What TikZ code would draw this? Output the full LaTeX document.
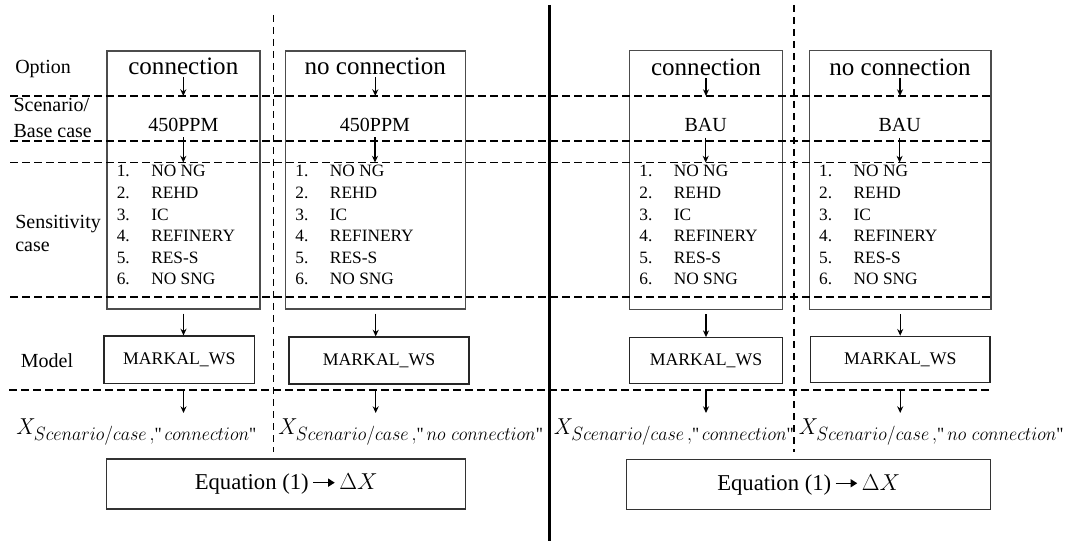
\documentclass[tikz,border=0pt]{standalone}
\usepackage{amsmath}
\usepackage{fontspec}
\setmainfont{Liberation Serif}
\newfontfamily\qfont[Ligatures=TeXOff]{Liberation Serif}
\DeclareMathSizes{18}{18}{14}{10}
\usetikzlibrary{arrows.meta}
\newcommand\pxl{0.75pt}
\newcommand\sq{\text{\qfont "}}
\begin{document}
\begin{tikzpicture}[x=0.75pt,y=-0.75pt,
  hd/.style={dash pattern=on 6pt off 3pt, line width=1.2pt},
  vd/.style={dash pattern=on 5pt off 4pt, line width=1.2pt},
  colbox/.style={draw=black!70, line width=0.9pt, inner sep=0pt},
  mbox/.style={draw=black!85, line width=0.9pt, inner sep=0pt, font=\fontsize{13.3}{16}\selectfont},
  eqbox/.style={draw=black!80, line width=0.9pt, inner sep=0pt, font=\fontsize{17}{20}\selectfont},
  arr/.style={-{Stealth[length=5pt,width=4.5pt]}, line width=0.9pt},
  lbl/.style={anchor=base west, inner sep=0pt, font=\fontsize{15}{18}\selectfont},
  opt/.style={anchor=base, inner sep=0pt, font=\fontsize{18.8}{22}\selectfont},
  scen/.style={anchor=base, inner sep=0pt, font=\fontsize{15}{18}\selectfont},
  item/.style={anchor=base west, inner sep=0pt, font=\fontsize{13}{16}\selectfont},
  xl/.style={anchor=base west, inner sep=0pt, xscale=0.94, transform shape, font=\fontsize{18}{21}\selectfont}]
\useasboundingbox (0,0) rectangle (1070,541);

% row labels
\node[lbl] (lOpt) at (15,74) {Option};
\node[lbl] (lScen) at (13.3,111.7) {Scenario/};
\node[lbl] (lBase) at (13.3,137.3) {Base case};
\node[lbl] (lSens) at (15,228.3) {Sensitivity};
\node[lbl] (lCase) at (15,251.7) {case};
\node[lbl] (lModel) at (20.7,367.7) {Model};

% column boxes
\node[colbox, minimum width=153*\pxl, minimum height=258*\pxl] (colL1) at (183.5,180) {};
\node[colbox, minimum width=180*\pxl, minimum height=258*\pxl] (colL2) at (375.7,180) {};
\node[colbox, minimum width=153*\pxl, minimum height=259*\pxl] (colR1) at (706,180) {};
\node[colbox, minimum width=181.6*\pxl, minimum height=259*\pxl] (colR2) at (900.2,180) {};

% option texts
\node[opt] (oL1) at (183.3,75) {connection};
\node[opt] (oL2) at (375.3,75) {no connection};
\node[opt] (oR1) at (706,76) {connection};
\node[opt] (oR2) at (900,76) {no connection};

% scenario texts
\node[scen] (sL1) at (183.3,131.7) {450PPM};
\node[scen] (sL2) at (375,131.7) {450PPM};
\node[scen] (sR1) at (705.7,131.8) {BAU};
\node[scen] (sR2) at (899.6,131.8) {BAU};

% sensitivity lists
\foreach \c/\lx in {L1/107, L2/285.7, R1/629.6, R2/809.4}{
  \foreach \i/\t in {1/NO NG, 2/REHD, 3/IC, 4/REFINERY, 5/RES-S, 6/NO SNG}{
    \node[item] (n\c-\i) at ({\lx+9.5},{177+21.6*(\i-1)}) {\i.};
    \node[item] (t\c-\i) at ({\lx+44},{177+21.6*(\i-1)}) {\t};
  }
}

% model boxes
\node[mbox, minimum width=150.5*\pxl, minimum height=47.5*\pxl] (mL1) at (179.3,359.8) {MARKAL\_WS};
\node[mbox, minimum width=180*\pxl, minimum height=47*\pxl] (mL2) at (379,360.5) {MARKAL\_WS};
\node[mbox, minimum width=153*\pxl, minimum height=46*\pxl] (mR1) at (706,360.7) {MARKAL\_WS};
\node[mbox, minimum width=179.5*\pxl, minimum height=46.5*\pxl] (mR2) at (900.2,359.5) {MARKAL\_WS};

% result labels
\node[xl] (xL1) at (16,434) {$X_{Scenario/case\,,\sq\,connection\sq}$};
\node[xl] (xL2) at (278,434) {$X_{Scenario/case\,,\sq\,no\ connection\sq}$};
\node[xl] (xR1) at (553.5,434) {$X_{Scenario/case\,,\sq\,connection\sq}$};
\node[xl] (xR2) at (798.6,434) {$X_{Scenario/case\,,\sq\,no\ connection\sq}$};

% equation boxes
\node[eqbox, minimum width=359*\pxl, minimum height=50*\pxl] (eqL) at (286.2,484)
  {Equation (1)\,\tikz[baseline]{\draw[line width=1.1pt,-{Triangle[length=5pt,width=6pt]}] (0,0.3em) -- (0.95em,0.3em);}\,$\Delta X$};
\node[eqbox, minimum width=363.7*\pxl, minimum height=50*\pxl] (eqR) at (808.7,484.6)
  {Equation (1)\,\tikz[baseline]{\draw[line width=1.1pt,-{Triangle[length=5pt,width=6pt]}] (0,0.3em) -- (0.95em,0.3em);}\,$\Delta X$};

% horizontal dashed lines
\coordinate (h1) at (10,96);
\coordinate (h2) at (10,141);
\coordinate (h3) at (10,162.5);
\coordinate (h4) at (10,297);
\coordinate (h5) at (9,390);
\coordinate (xtop) at (9,413);
\draw[hd] (h1) -- (990,96);
\draw[hd] (h2) -- (990,141);
\draw[hd] (h3) -- (990,162.5);
\draw[hd] (h4) -- (990,297);
\draw[hd] (h5) -- (990,390);

% vertical separators
\draw[vd] (273.3,15) -- (273.3,452);
\draw[vd] (794,5) -- (794,452);
\draw[line width=2.3pt] (549.4,5) -- (549.4,541);

% arrows
\foreach \c in {L1,L2,R1,R2}{
  \draw[arr, shorten <=1pt] (o\c.south) -- (o\c.south |- h1);
  \draw[arr, shorten <=4pt] (s\c.south) -- (s\c.south |- h3);
  \draw[arr, shorten <=3pt] (col\c.south) -- (col\c.south |- m\c.north);
  \draw[arr] (col\c.south |- h5) -- (col\c.south |- xtop);
}
\end{tikzpicture}
\end{document}
